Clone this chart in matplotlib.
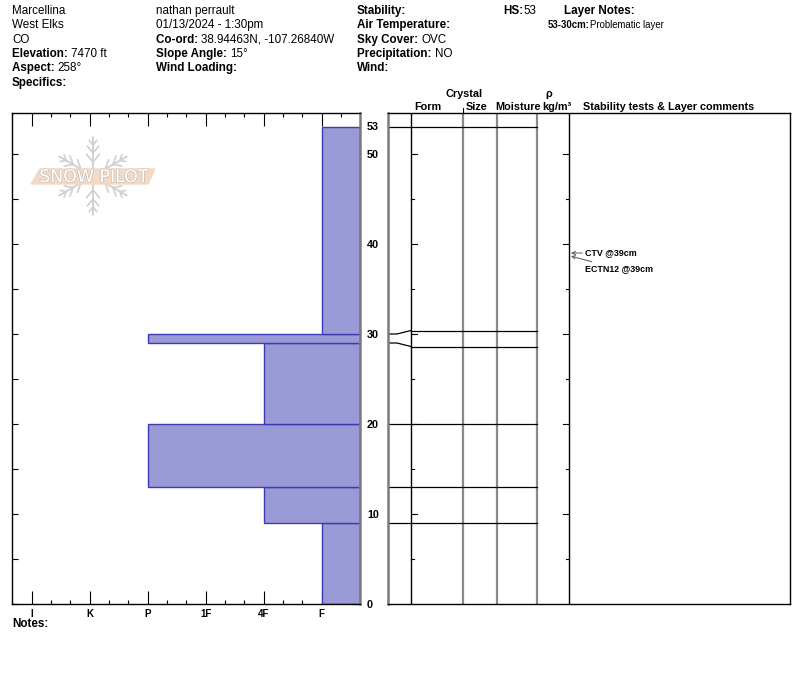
import matplotlib
matplotlib.use("Agg")
import matplotlib.pyplot as plt
import matplotlib.patheffects as pe
import numpy as np

plt.rcParams['font.family'] = ['Liberation Sans', 'DejaVu Sans']

W, H = 800, 676

# ---------------- data ----------------
header_col1 = [("", "Marcellina"), ("", "West Elks"), ("", "CO"),
               ("Elevation: ", "7470 ft"), ("Aspect: ", "258°"), ("Specifics:", "")]
header_col2 = [("", "nathan perrault"), ("", "01/13/2024 - 1:30pm"),
               ("Co-ord: ", "38.94463N, -107.26840W"), ("Slope Angle: ", "15°"),
               ("Wind Loading:", "")]
header_col3 = [("Stability:", ""), ("Air Temperature:", ""), ("Sky Cover: ", "OVC"),
               ("Precipitation: ", "NO"), ("Wind:", "")]
snow_height = 53
layer_notes = [("53-30cm:", "Problematic layer")]

hardness_labels = ["F", "4F", "1F", "P", "K", "I"]
layer_bottom = [0, 9, 13, 20, 29, 30]
layer_top = [9, 13, 20, 29, 30, 53]
layer_hardness = ["F", "4F", "P", "4F", "P", "F"]

tests = ["CTV @39cm", "ECTN12 @39cm"]
test_depth = [39, 39]

depth_labels = [0, 10, 20, 30, 40, 50]

# ---------------- layout helpers ----------------
fig = plt.figure(figsize=(W / 100, H / 100), dpi=100)
renderer = fig.canvas.get_renderer()


def px(x, y):
    return x / W, 1 - y / H


def label_value(x, y, label, value, size=8.4, lsize=None):
    lsize = lsize or size
    xx, yy = px(x, y)
    t = fig.text(xx, yy, label, fontsize=lsize, fontweight='bold', va='baseline', ha='left')
    if value:
        bb = t.get_window_extent(renderer)
        fig.text(bb.x1 / W, yy, value, fontsize=size, va='baseline', ha='left')


line_h = 14.35
for i, (l, v) in enumerate(header_col1):
    label_value(12, 14 + i * line_h, l, v)
for i, (l, v) in enumerate(header_col2):
    label_value(156, 14 + i * line_h, l, v)
for i, (l, v) in enumerate(header_col3):
    label_value(357, 14 + i * line_h, l, v)
label_value(503, 14, "HS:", str(snow_height))
label_value(564, 14, "Layer Notes:", "")
for i, (l, v) in enumerate(layer_notes):
    label_value(548, 28 + i * 12, l, v, size=6.9)

# ---------------- hardness profile ----------------
top_depth = (604 - 113) / 9.0
hidx = {h: i + 1 for i, h in enumerate(hardness_labels)}
x_right, x_left = 1 - 0.66, len(hardness_labels) + 0.34

ax = fig.add_axes([12 / W, (H - 604) / H, (360 - 12) / W, (604 - 113) / H])
ax.set_xlim(x_left, x_right)
ax.set_ylim(0, top_depth)

vals = np.array([hidx[h] for h in layer_hardness], dtype=float)
bottoms = np.array(layer_bottom, dtype=float)
tops = np.array(layer_top, dtype=float)
ax.barh(bottoms, vals - x_right, left=x_right, height=tops - bottoms, align='edge',
        color='#9a9ad6', edgecolor='#3c3cb0', linewidth=1.0, zorder=2)

major = np.arange(1, len(hardness_labels) + 1)
ax.set_xticks(major)
ax.set_xticklabels(hardness_labels, fontweight='bold', fontsize=7.0)
minor = sorted(set(np.concatenate([major - 1 / 3, major + 1 / 3])))
minor = [m for m in minor if x_right < m < x_left]
ax.set_xticks(minor, minor=True)
ax.tick_params(axis='x', which='major', direction='in', length=9.5, width=0.8,
               top=True, bottom=True, pad=3.5)
ax.tick_params(axis='x', which='minor', direction='in', length=3, width=0.8,
               top=True, bottom=True)

ax.set_yticks(depth_labels)
ax.set_yticklabels([str(d) for d in depth_labels], fontweight='bold', fontsize=7.8)
ax.set_yticks(np.arange(5, 55, 10), minor=True)
ax.tick_params(axis='y', which='both', direction='in', length=4.5, width=0.8,
               left=True, right=True, labelleft=False, labelright=True, pad=5)
ax.text(1.0 + 7 / 348, snow_height, str(snow_height), transform=ax.get_yaxis_transform(),
        fontweight='bold', fontsize=7.8, va='center', ha='left')
for s in ['top', 'left', 'bottom']:
    ax.spines[s].set_linewidth(1.0)
ax.spines['right'].set_color('#7a7a7a')
ax.spines['right'].set_linewidth(1.8)

fig.text(12 / W, 1 - 627 / H, "Notes:", fontweight='bold', fontsize=8.4, va='baseline')

# ---------------- layer table ----------------
tx0, tx1 = 388, 790
tab = fig.add_axes([tx0 / W, (H - 604) / H, (tx1 - tx0) / W, (604 - 113) / H])
tab.set_xlim(tx0, tx1)
tab.set_ylim(0, top_depth)
tab.set_xticks([])
tab.set_yticks([])
for s in tab.spines.values():
    s.set_linewidth(1.0)
tab.spines['left'].set_color('#7a7a7a')
tab.spines['left'].set_linewidth(1.8)

# column lines
for xc, col, lw in [(411, 'black', 1.0), (463, '#8a8a8a', 1.6), (497, '#8a8a8a', 1.6),
                    (537, '#8a8a8a', 1.6), (569, 'black', 1.0)]:
    tab.plot([xc, xc], [0, top_depth], color=col, lw=lw, zorder=1)

# depth ticks in table
for d in range(5, 55, 5):
    ln = 6 if d % 10 == 0 else 3
    tab.plot([411, 411 + ln], [d, d], color='black', lw=0.8)
    tab.plot([569 - ln, 569], [d, d], color='black', lw=0.8)

# row boundaries with min row height
min_h = 16 / 9.0
bounds = sorted(set(layer_bottom + layer_top) - {0})
disp = {b: float(b) for b in bounds}
for b0, t0 in zip(layer_bottom, layer_top):
    if t0 - b0 < min_h:
        c = (b0 + t0) / 2
        disp[b0] = c - min_h / 2
        disp[t0] = c + min_h / 2
for b in bounds:
    yd = disp[b]
    if abs(yd - b) > 1e-6:
        tab.plot([tx0, 397, 411], [b, b, yd], color='black', lw=0.9)
        tab.plot([411, 537], [yd, yd], color='black', lw=0.9)
    else:
        tab.plot([tx0, 537], [b, b], color='black', lw=0.9)

# stability tests
for i, (txt, d) in enumerate(zip(tests, test_depth)):
    ty = d - i * 16 / 9.0
    tab.annotate(txt, xy=(571, d - i * 0.35), xytext=(585, ty),
                 fontsize=6.4, fontweight='bold', va='center', ha='left',
                 arrowprops=dict(arrowstyle='->', color='#555555', lw=0.7,
                                 shrinkA=0, shrinkB=0, mutation_scale=6))

# table header
hdr = dict(fontweight='bold', fontsize=7.8, ha='center', va='baseline')
fig.text(*px(464, 97), "Crystal", **hdr)
fig.text(*px(428, 110), "Form", **hdr)
fig.text(*px(477, 110), "Size", **hdr)
fig.text(*px(518, 110), "Moisture", **hdr)
fig.text(*px(549, 97), "ρ", **hdr)
fig.text(*px(557, 110), "kg/m³", **hdr)
fig.text(*px(669, 110), "Stability tests & Layer comments", **hdr)

# ---------------- logo watermark ----------------
ov = fig.add_axes([0, 0, 1, 1], facecolor='none')
ov.set_xlim(0, W)
ov.set_ylim(H, 0)
ov.axis('off')
cx, cy, R = 93, 176, 39
gray = '#cfcfcf'
for k in range(6):
    a = np.deg2rad(90 + 60 * k)
    ux, uy = np.cos(a), -np.sin(a)
    ov.plot([cx, cx + R * ux], [cy, cy + R * uy], color=gray, lw=1.3, solid_capstyle='round')
    for dist, bl in [(14, 10), (23, 9), (31, 6)]:
        bx, by = cx + dist * ux, cy + dist * uy
        for sgn in (1, -1):
            b = a + sgn * np.deg2rad(40)
            ov.plot([bx, bx + bl * np.cos(b)], [by, by - bl * np.sin(b)],
                    color=gray, lw=1.2, solid_capstyle='round')
ov.fill([31, 40, 155, 148], [184, 169, 169, 184], color='#f2dac6', zorder=3)
ov.text(94, 177, "SNOW PILOT", fontsize=12.5, color='white', ha='center', va='center',
        family='DejaVu Sans', zorder=4,
        path_effects=[pe.withStroke(linewidth=1.0, foreground='#c8c0b8')])
# tick above Crystal column
ov.plot([463, 463], [108, 113], color='black', lw=0.8)

fig.savefig("out.png", dpi=100)
